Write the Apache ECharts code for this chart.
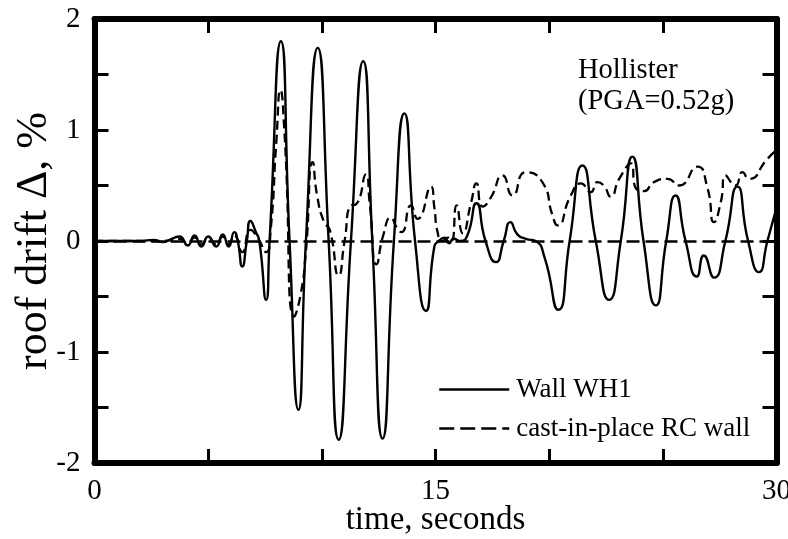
<!DOCTYPE html>
<html>
<head>
<meta charset="utf-8">
<script src="https://cdn.jsdelivr.net/npm/echarts@6/dist/echarts.min.js"></script>
<style>html,body{margin:0;padding:0;background:#fff;}#c{width:788px;height:539px;}</style>
</head>
<body>
<div id="c"></div>
<script>
// time (s) and roof drift (%) for Wall WH1 (solid)
var wallTime = [0,1.0,2.0,2.6,3.0,3.4,3.74,4.1,4.4,4.7,5.0,5.35,5.64,5.9,6.15,6.3,6.5,6.7,6.86,7.1,7.25,7.55,7.7,8.2,8.58,8.97,9.3,9.82,10.3,10.74,11.28,11.82,12.22,12.67,13.17,13.63,14.1,14.58,14.95,15.15,15.4,15.6,15.8,16.1,16.4,16.8,17.2,17.66,18.0,18.3,18.6,18.97,19.4,19.8,20.4,20.9,21.46,22.05,22.64,23.15,23.66,24.15,24.69,25.15,25.56,26.0,26.5,26.8,27.25,27.75,28.28,28.75,29.23,29.6,30.0];
var wallDrift = [0,0,0,0.01,-0.01,0.02,0.04,-0.04,0.05,-0.05,0.04,-0.05,0.06,-0.05,0.08,0.0,-0.23,0.0,0.18,0.08,0.0,-0.53,0.0,1.80,0.0,-1.52,0.0,1.74,0.0,-1.79,0.0,1.62,0.0,-1.78,0.0,1.15,0.0,-0.63,-0.05,0.0,0.03,-0.02,0.02,0.0,0.05,0.34,0.0,-0.19,0.0,0.17,0.06,0.02,0.0,-0.15,-0.62,0.0,0.68,0.0,-0.53,0.0,0.76,0.0,-0.58,0.0,0.41,0.0,-0.32,-0.13,-0.33,0.0,0.49,0.0,-0.28,0.0,0.3];
// time (s) and roof drift (%) for cast-in-place RC wall (dashed)
var rcTime = [0,3.0,3.74,4.1,4.4,4.7,5.0,5.35,5.64,5.9,6.15,6.5,6.86,7.2,7.55,7.75,8.0,8.18,8.35,8.79,9.05,9.28,9.6,9.8,10.1,10.35,10.74,11.0,11.28,11.5,11.94,12.1,12.41,12.7,13.04,13.3,13.5,13.92,14.21,14.8,14.95,15.09,15.3,15.55,15.7,15.93,16.2,16.56,16.8,17.07,17.43,17.95,18.39,18.97,19.7,20.15,20.37,20.95,21.4,21.83,22.12,22.4,22.71,23.08,23.6,23.8,24.18,24.6,25.2,25.71,26.52,26.96,27.25,27.55,27.76,28.2,28.5,28.79,29.6,30.0];
var rcDrift = [0,0,0.02,-0.02,0.03,-0.03,0.03,-0.03,0.04,-0.03,0.05,-0.1,0.1,0.02,-0.1,0.1,0.9,1.36,1.0,-0.68,-0.5,-0.14,0.71,0.4,0.17,0.1,-0.31,0.0,0.32,0.33,0.6,0.35,-0.21,0.05,0.21,0.12,0.08,0.32,0.2,0.49,0.3,0.08,0.0,0.03,0.0,0.32,0.07,0.34,0.52,0.31,0.39,0.59,0.41,0.62,0.53,0.23,0.14,0.41,0.52,0.44,0.53,0.5,0.4,0.56,0.7,0.48,0.45,0.53,0.56,0.5,0.67,0.48,0.17,0.35,0.59,0.5,0.62,0.56,0.74,0.82];
var xTickLabels = [0,15,30];
var yTickLabels = [-2,-1,0,1,2];
var seriesNames = ['Wall WH1','cast-in-place RC wall'];
var annotation = ['Hollister','(PGA=0.52g)'];

function pairs(a,b){return a.map(function(t,i){return [t,b[i]];});}
var FONT = 'Liberation Serif';
var chart = echarts.init(document.getElementById('c'));
var axisCommonX = {
  type:'value', min:0, max:30, interval:5,
  axisLine:{show:true,onZero:false,lineStyle:{color:'#000',width:6}},
  axisTick:{show:true,inside:true,length:14,lineStyle:{color:'#000',width:3}},
  splitLine:{show:false}
};
var axisCommonY = {
  type:'value', min:-2, max:2, interval:0.5,
  axisLine:{show:true,onZero:false,lineStyle:{color:'#000',width:6}},
  axisTick:{show:true,inside:true,length:14,lineStyle:{color:'#000',width:3}},
  splitLine:{show:false}
};
chart.setOption({
  animation:false,
  backgroundColor:'#fff',
  grid:{left:94.5,right:11.5,top:19,bottom:76,show:false,outerBoundsMode:'none',containLabel:false},
  xAxis:[
    Object.assign({}, axisCommonX, {position:'bottom',
      axisLabel:{show:true,margin:14,color:'#000',fontFamily:FONT,fontSize:29,
        formatter:function(v){return xTickLabels.indexOf(v)>=0?String(v):'';}},
      name:'time, seconds', nameLocation:'middle', nameGap:41, nameMoveOverlap:false,
      nameTextStyle:{color:'#000',fontFamily:FONT,fontSize:33}}),
    Object.assign({}, axisCommonX, {position:'top',axisLabel:{show:false}})
  ],
  yAxis:[
    Object.assign({}, axisCommonY, {position:'left',
      axisLabel:{show:true,margin:14,color:'#000',fontFamily:FONT,fontSize:29,
        formatter:function(v){return yTickLabels.indexOf(v)>=0?String(v):'';}},
      name:'roof drift \u0394, %', nameLocation:'middle', nameGap:38, nameRotate:90, nameMoveOverlap:false,
      nameTextStyle:{color:'#000',fontFamily:FONT,fontSize:44}}),
    Object.assign({}, axisCommonY, {position:'right',axisLabel:{show:false}})
  ],
  legend:{
    show:true, orient:'vertical', left:438, top:376, itemWidth:70, itemHeight:14, itemGap:12,
    padding:0,
    data:[
      {name:seriesNames[0], lineStyle:{width:2.5,type:'solid'}},
      {name:seriesNames[1], lineStyle:{width:2.5,type:[15,6]}}
    ],
    itemStyle:{opacity:0},
    textStyle:{color:'#000',fontFamily:FONT,fontSize:27,padding:[0,0,0,2]}
  },
  graphic:[
    {type:'text', left:578, top:55, style:{text:annotation[0]+'\n'+annotation[1], fill:'#000', font:'28.5px "Liberation Serif"', lineHeight:31}}
  ],
  series:[
    {name:seriesNames[0], type:'line', data:pairs(wallTime,wallDrift), smooth:0.6, showSymbol:false, symbol:'none',
     lineStyle:{color:'#000',width:2.4,type:'solid'}, itemStyle:{color:'#000'},
     markLine:{silent:true,symbol:['none','none'],label:{show:false},
       lineStyle:{color:'#000',width:2.5,type:[13,6]}, data:[{yAxis:0}]}},
    {name:seriesNames[1], type:'line', data:pairs(rcTime,rcDrift), smooth:0.6, showSymbol:false, symbol:'none',
     lineStyle:{color:'#000',width:2.3,type:[9,5]}, itemStyle:{color:'#000'}}
  ]
});
</script>
</body>
</html>
